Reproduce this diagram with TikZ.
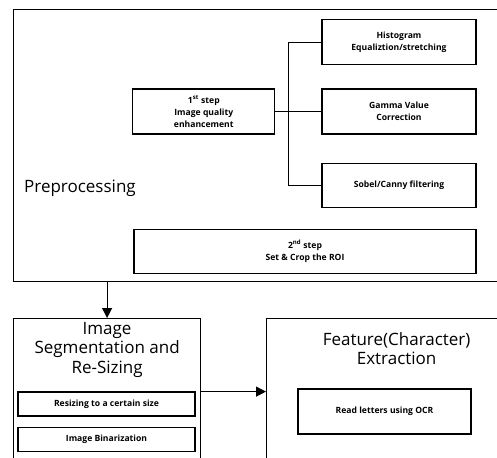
\documentclass[tikz,border=0pt]{standalone}
\usepackage{fontspec}
\setmainfont{Open Sans}
\usetikzlibrary{arrows.meta,positioning}
\newcommand{\smalltxt}{\fontsize{8.6}{12}\selectfont\bfseries}
\newcommand{\bigtxt}{\fontsize{17}{19.5}\selectfont}

\begin{document}
\begin{tikzpicture}[x=1pt,y=-1pt,
        frame/.style={rectangle,draw,line width=1.2pt,anchor=north west},
        box/.style={rectangle,draw,line width=1.2pt,align=center,font=\smalltxt,
          minimum width=154pt,minimum height=45pt,inner sep=0pt},
        title/.style={align=center,font=\bigtxt,inner sep=0pt},
        arrow/.style={-{Triangle[length=10pt,width=10pt]},line width=1.2pt},
        link/.style={line width=0.9pt}]
        \useasboundingbox (0,0) rectangle (497,457);
        \clip (0,0) rectangle (497,457);
        % preprocessing stage
        \node[frame,minimum width=520pt,minimum height=272pt] (pre) at (13,9) {};
        \node[box] (gamma) at (399,111.5) {Gamma Value\\Correction};
        \node[box,above=23pt of gamma] (hist) {Histogram\\Equaliztion/stretching};
        \node[box,below=28pt of gamma,minimum height=44pt] (sobel) {Sobel/Canny filtering};
        \node[box,left=46pt of gamma,minimum width=142pt] (step1) {1\textsuperscript{st} step\\Image quality\\enhancement};
        \node[box,below left=21pt and 0pt of sobel.south east,minimum width=342pt,minimum height=44pt] (step2) {2\textsuperscript{nd} step\\Set \& Crop the ROI};
        \node[title,anchor=west] (prelbl) at (24,188) {Preprocessing};
        \draw[link] (step1.east) -- (gamma.west);
        \draw[link] (hist.west) -- ++(-33,0) coordinate (fork) |- (sobel.west);
        % segmentation and feature extraction
        \node[frame,minimum width=187pt,minimum height=146pt] (seg) at (13,318) {};
        \node[frame,minimum width=260pt,minimum height=146pt] (feat) at (266,318) {};
        \node[title,below=4pt of seg.north] (segttl) {Image\\Segmentation and\\Re-Sizing};
        \node[title,below=14pt of feat.north] (featttl) {Feature(Character)\\Extraction};
        \node[box,minimum width=177pt,minimum height=24pt] (resize) at (106.5,404) {Resizing to a certain size};
        \node[box,below=10pt of resize,minimum width=177pt,minimum height=24pt] (binar) {Image Binarization};
        \node[box,minimum width=173pt] (ocr) at (384.5,411.5) {Read letters using OCR};
        \draw[arrow] (seg.north |- pre.south) -- (seg.north);
        \draw[arrow] (seg.east) -- (feat.west |- seg.east);
      \end{tikzpicture}
\end{document}
